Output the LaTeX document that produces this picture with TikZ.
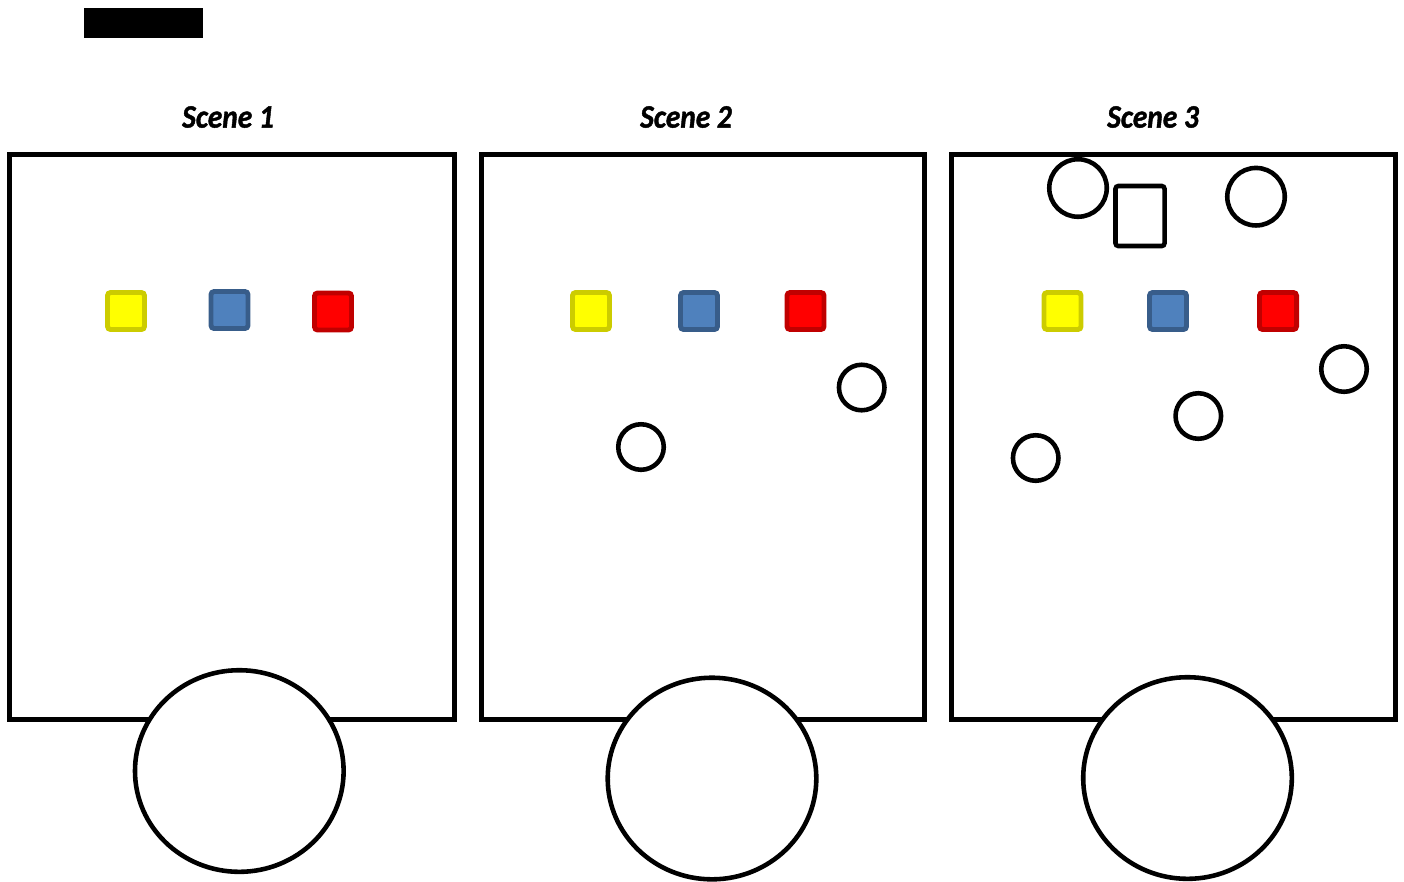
\documentclass[tikz,border=0pt]{standalone}
\usepackage{fontspec}
\usepackage{tikz}
\usetikzlibrary{shapes.geometric}
\newfontfamily\scenefont[FakeStretch=0.9,FakeBold=1.2]{Carlito}
\definecolor{yellowfill}{HTML}{FFFF00}
\definecolor{yellowline}{HTML}{CCCC00}
\definecolor{bluefill}{HTML}{4F81BD}
\definecolor{blueline}{HTML}{385D8A}
\definecolor{redfill}{HTML}{FF0000}
\definecolor{redline}{HTML}{C00000}

\begin{document}
\begin{tikzpicture}[x=0.01cm,y=-0.01cm,
    panel/.style={draw,line width=1.4pt},
    wheel/.style={ellipse,draw,fill=white,line width=1.3pt,minimum width=2.085cm,minimum height=2.015cm,inner sep=0pt},
    ball/.style={circle,draw,line width=1.3pt,minimum size=0.455cm,inner sep=0pt},
    bigball/.style={circle,draw,line width=1.3pt,minimum size=0.575cm,inner sep=0pt},
    tile/.style={rectangle,rounded corners=0.9pt,line width=1.4pt,minimum size=0.37cm,inner sep=0pt},
    title/.style={font=\scenefont\bfseries\itshape\fontsize{9.3pt}{11pt}\selectfont}]
        \useasboundingbox (0,0) rectangle (1404,881);
        \fill (84,8) rectangle (203,38);
        % titles
        \node[title] (t1) at (228,117) {Scene 1};
        \node[title] (t2) at (686,117) {Scene 2};
        \node[title] (t3) at (1153,117) {Scene 3};
        % panels
        \draw[panel] (9.8,154.5) rectangle (454.8,719.5);
        \draw[panel] (481.5,154.5) rectangle (924.8,719.5);
        \draw[panel] (951.5,154.5) rectangle (1395.5,719.5);
        \node[wheel] (w1) at (239.3,771) {};
        \node[wheel] (w2) at (712,778.5) {};
        \node[wheel] (w3) at (1187.5,778) {};
        % scene 1
        \node[tile,fill=yellowfill,draw=yellowline] (y1) at (126,311) {};
        \node[tile,fill=bluefill,draw=blueline] (b1) at (229.5,310) {};
        \node[tile,fill=redfill,draw=redline] (r1) at (333,311.5) {};
        % scene 2
        \node[tile,fill=yellowfill,draw=yellowline] (y2) at (591,311) {};
        \node[tile,fill=bluefill,draw=blueline] (b2) at (699,311) {};
        \node[tile,fill=redfill,draw=redline] (r2) at (805.5,311) {};
        \node[ball] (p21) at (641,447) {};
        \node[ball] (p22) at (861.7,387.5) {};
        % scene 3
        \node[tile,fill=yellowfill,draw=yellowline] (y3) at (1062.5,311) {};
        \node[tile,fill=bluefill,draw=blueline] (b3) at (1168,311) {};
        \node[tile,fill=redfill,draw=redline] (r3) at (1278,311) {};
        \node[bigball] (q31) at (1078,188) {};
        \node[bigball] (q32) at (1256,196.7) {};
        \node[rectangle,draw,line width=1.3pt,rounded corners=0.8pt,minimum width=0.49cm,minimum height=0.6cm,inner sep=0pt] (box3) at (1140,216) {};
        \node[ball] (p31) at (1035.7,458) {};
        \node[ball] (p32) at (1198.3,416) {};
        \node[ball] (p33) at (1344,369) {};
      \end{tikzpicture}
\end{document}
